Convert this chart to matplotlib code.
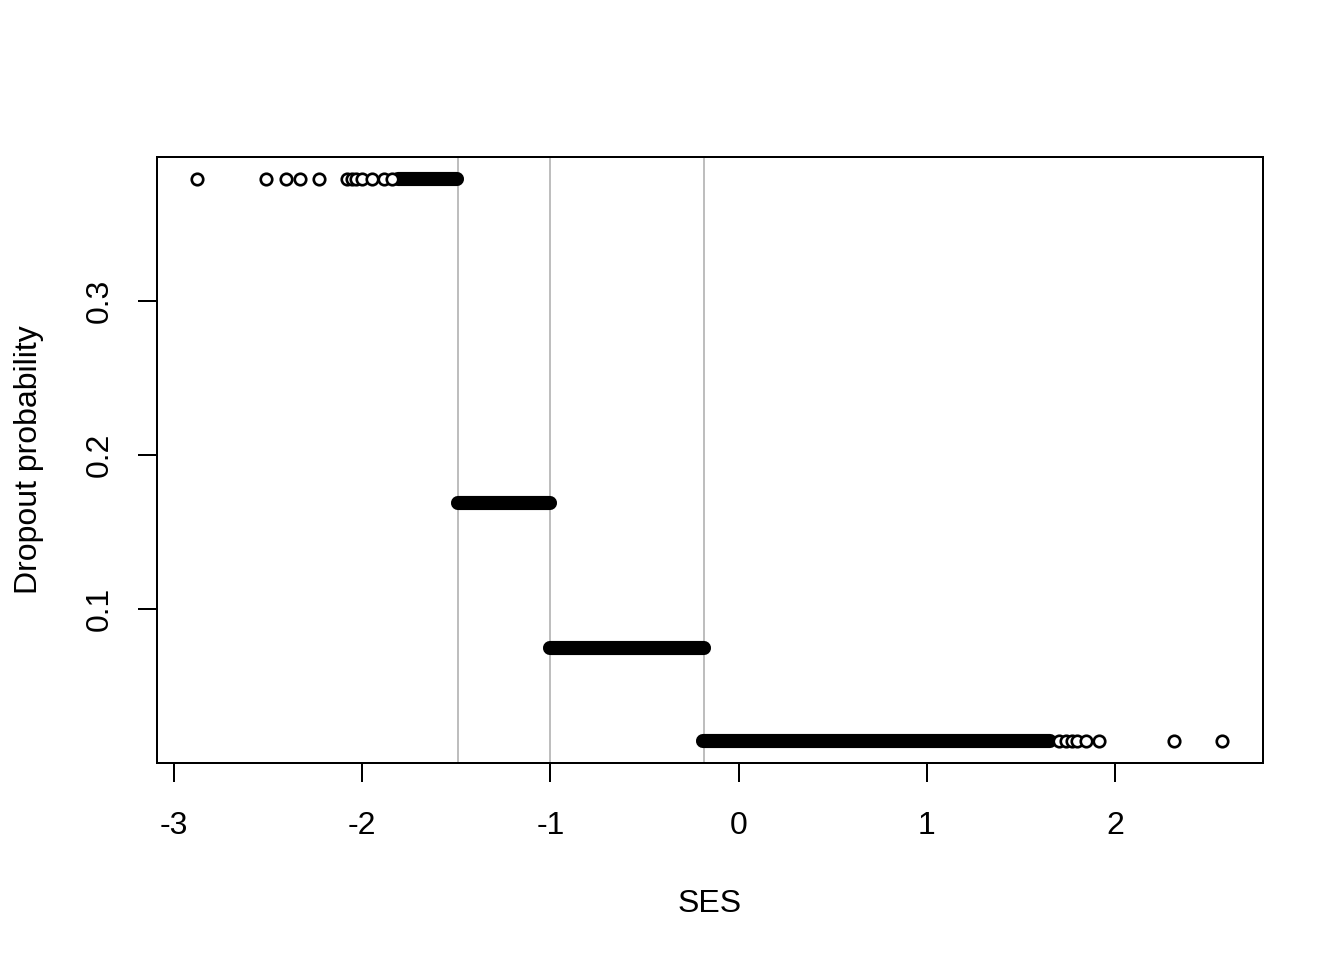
import matplotlib
matplotlib.use("Agg")
import matplotlib.pyplot as plt

plt.rcParams["font.family"] = ["Liberation Sans", "DejaVu Sans"]

# dropout probability for each SES group
levels = [0.3792, 0.1688, 0.0747, 0.0143]

# dense runs of observations (start / end SES) on each level
run_start = [-1.812, -1.493, -1.004, -0.190]
run_end = [-1.496, -1.004, -0.186, 1.655]

# isolated observations
top_ses = [-2.876, -2.509, -2.403, -2.332, -2.230, -2.078, -2.056, -2.035,
           -2.003, -1.950, -1.886, -1.844]
bottom_ses = [1.700, 1.737, 1.770, 1.800, 1.844, 1.913, 2.311, 2.566]

# group cut points
cuts = [-1.493, -1.004, -0.186]

xticks = [-3, -2, -1, 0, 1, 2]
yticks = [0.1, 0.2, 0.3]

fig = plt.figure(figsize=(7, 5), dpi=192)
ax = fig.add_axes([0.1168, 0.2052, 0.8229, 0.6313])

for c in cuts:
    ax.axvline(c, color="#BEBEBE", lw=0.75, zorder=1)

msize = 4.3
ew = 1.0
for y, a, b in zip(levels, run_start, run_end):
    ax.plot([a, b], [y, y], color="black", lw=msize + ew,
            solid_capstyle="round", zorder=2)

ax.plot(top_ses, [levels[0]] * len(top_ses), "o", mfc="white", mec="black",
        ms=msize, mew=ew, zorder=3)
ax.plot(bottom_ses, [levels[3]] * len(bottom_ses), "o", mfc="white",
        mec="black", ms=msize, mew=ew, zorder=3)

ax.set_xlim(-3.090, 2.786)
ax.set_ylim(-0.0003, 0.3938)
ax.set_xticks(xticks)
ax.set_xticklabels([str(t) for t in xticks])
ax.set_yticks(yticks)
ax.set_yticklabels([str(t) for t in yticks], rotation=90, va="center")

for s in ax.spines.values():
    s.set_linewidth(0.75)
ax.tick_params(axis="both", direction="out", length=7, width=0.75,
               labelsize=12)
ax.tick_params(axis="x", pad=11)
ax.tick_params(axis="y", pad=9)

ax.set_xlabel("SES", fontsize=12, labelpad=18)
ax.set_ylabel("Dropout probability", fontsize=12, labelpad=15)

fig.savefig("out.png", dpi=192)
